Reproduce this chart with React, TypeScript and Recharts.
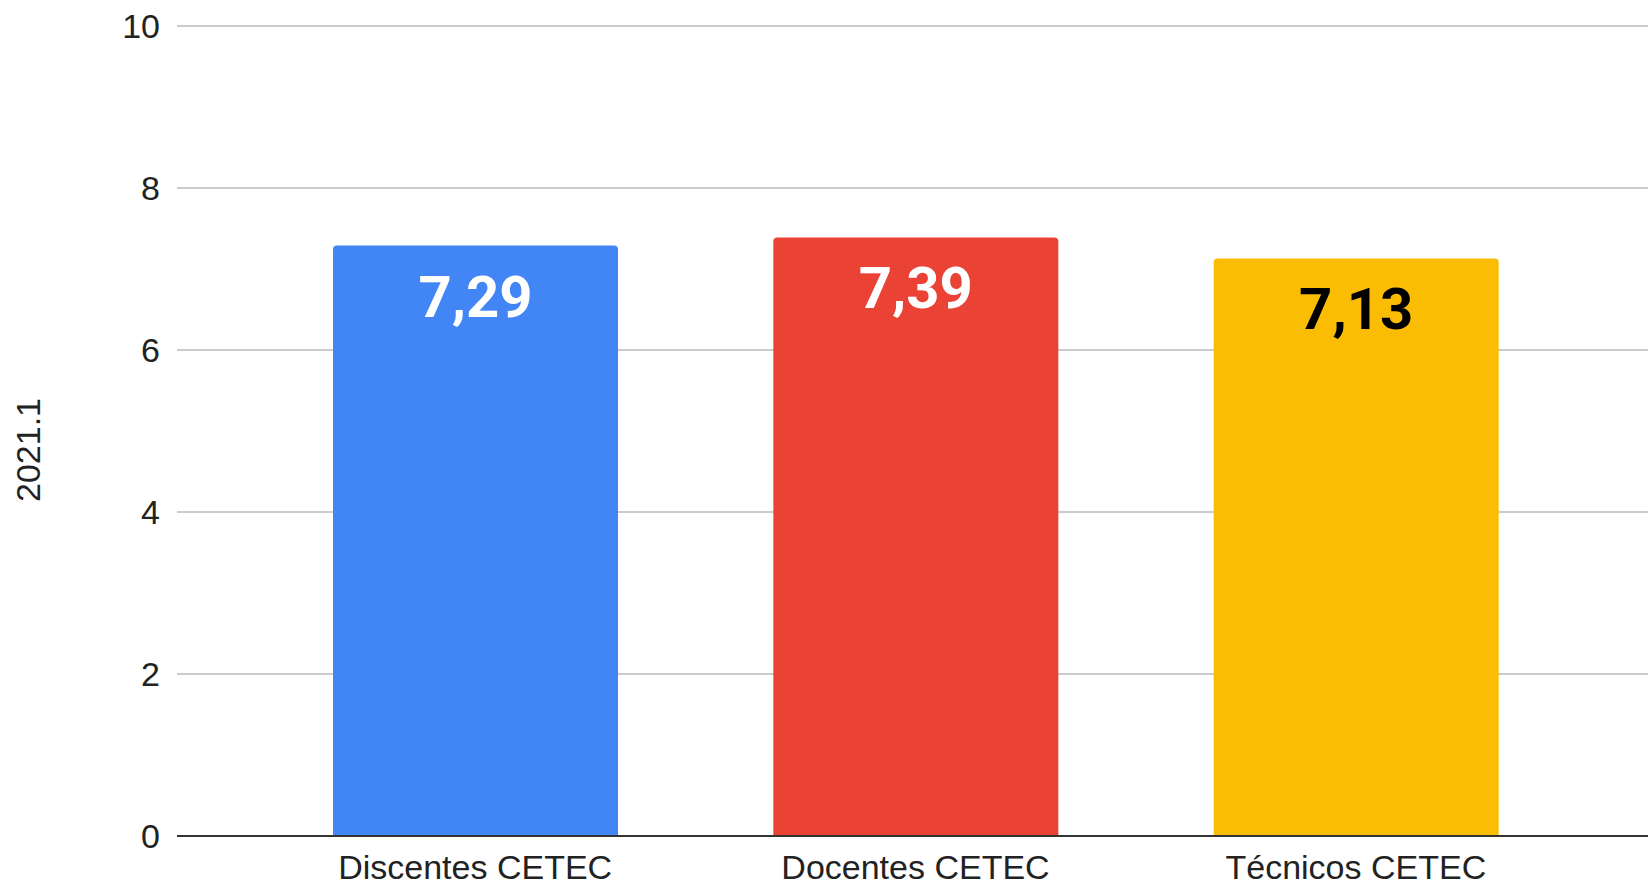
import { BarChart, Bar, Cell, CartesianGrid, XAxis, YAxis, LabelList, Label } from "recharts";

document.body.style.margin = "0";

const categories = ["Discentes CETEC", "Docentes CETEC", "Técnicos CETEC"];
const values = [7.29, 7.39, 7.13];
const yTicks = [0, 2, 4, 6, 8, 10];

const barColors = ["#4285F4", "#EA4335", "#FBBC04"];
const labelColors = ["#ffffff", "#ffffff", "#000000"];

const data = categories.map((name, i) => ({ name, value: values[i] }));

const axisFont = "Arial, 'Liberation Sans', sans-serif";

const ValueLabel = (props: any) => {
  const { x, y, width, value, index } = props;
  return (
    <text
      x={x + width / 2}
      y={y + 71}
      textAnchor="middle"
      fill={labelColors[index]}
      fontFamily="Roboto, sans-serif"
      fontWeight={700}
      fontSize={58}
    >
      {Number(value).toFixed(2).replace(".", ",")}
    </text>
  );
};

const AxisTitle = (props: any) => {
  const { viewBox } = props;
  const cx = viewBox.x + 28;
  const cy = viewBox.y + viewBox.height / 2 + 19;
  return (
    <text
      x={cx}
      y={cy}
      transform={`rotate(-90 ${cx} ${cy})`}
      textAnchor="middle"
      dominantBaseline="central"
      fill="#222"
      fontFamily={axisFont}
      fontSize={34}
    >
      2021.1
    </text>
  );
};

export default function App() {
  return (
    <BarChart
      width={1648}
      height={886}
      data={data}
      margin={{ top: 26, right: 0, bottom: 0, left: 0 }}
      barSize={285}
    >
      <CartesianGrid vertical={false} stroke="#cccccc" strokeWidth={2} />
      <XAxis
        dataKey="name"
        height={50}
        padding={{ left: 78, right: 72 }}
        tickLine={false}
        tickSize={0}
        tickMargin={19}
        axisLine={{ stroke: "#333333", strokeWidth: 2 }}
        tick={{ fill: "#222", fontSize: 34, fontFamily: axisFont }}
      />
      <YAxis
        width={177}
        domain={[0, 10]}
        ticks={yTicks}
        axisLine={false}
        tickLine={false}
        tickSize={0}
        tickMargin={17}
        tick={{ fill: "#222", fontSize: 34, fontFamily: axisFont }}
      >
        <Label content={AxisTitle} />
      </YAxis>
      <Bar dataKey="value" radius={[4, 4, 0, 0]} isAnimationActive={false}>
        {data.map((d, i) => (
          <Cell key={d.name} fill={barColors[i]} />
        ))}
        <LabelList dataKey="value" content={ValueLabel} />
      </Bar>
    </BarChart>
  );
}
